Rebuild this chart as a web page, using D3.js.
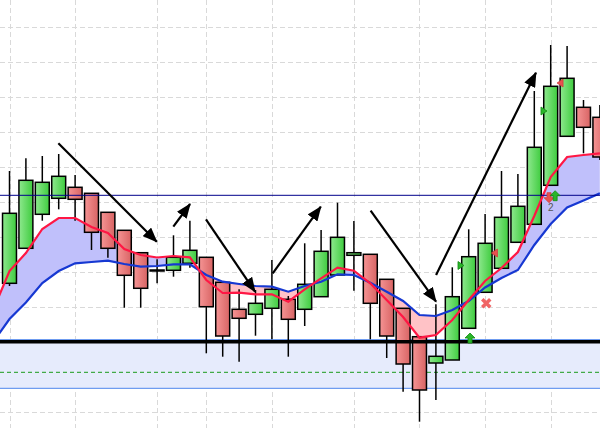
<!DOCTYPE html>
<html>
<head>
<meta charset="utf-8">
<script src="https://cdn.jsdelivr.net/npm/d3@7"></script>
<style>
body { margin:0; background:#fff; }
svg { display:block; }
</style>
</head>
<body>
<svg id="chart" width="600" height="428"></svg>
<script>
var width = 600, height = 428;

// candles, bar index 0..36
var open  = [121.67,125.17,128.57,130.17,131.27,130.67,128.77,126.97,124.73,122.97,122.97,123.67,124.27,121.77,119.07,118.57,119.17,120.07,119.07,120.33,122.50,124.47,124.57,122.07,119.17,116.33,113.70,114.00,117.17,120.77,123.17,125.77,127.57,131.47,136.37,139.27,138.27];
var high  = [132.90,134.17,134.40,134.60,132.50,130.67,128.77,126.97,124.73,124.07,126.47,127.93,124.27,121.77,121.07,121.00,124.00,120.40,125.67,127.00,129.73,127.90,124.57,122.07,119.17,116.33,119.57,123.27,127.07,128.60,132.90,132.60,140.90,145.50,145.40,140.00,139.50];
var low   = [121.40,125.17,127.93,129.07,127.93,125.00,124.23,119.23,119.23,121.67,122.33,123.23,114.67,114.33,113.83,116.43,116.07,114.33,117.40,120.33,122.50,120.93,116.07,114.20,110.83,107.83,110.00,114.00,117.17,120.77,123.17,125.77,127.57,131.47,136.37,134.67,134.00];
var close = [128.67,131.97,131.77,132.37,130.07,126.77,125.17,122.47,121.17,123.00,124.27,124.97,119.33,116.40,118.17,119.67,121.07,118.07,121.57,124.87,126.27,124.73,119.67,116.40,113.60,111.00,114.37,120.33,124.33,125.67,128.27,129.37,135.27,141.37,142.17,137.27,134.30];

// moving averages, first value sits one bar before the first candle
var maStart = -1;
var fastMA = [119.00,122.90,124.70,127.10,128.20,128.20,127.30,126.70,125.10,124.50,124.25,124.40,124.27,122.00,120.70,120.73,120.57,120.57,119.83,121.07,122.17,123.23,122.93,121.67,120.00,118.30,116.23,116.50,118.00,120.00,121.90,123.20,124.80,128.40,132.30,134.30,134.50,134.67];
var slowMA = [115.80,118.10,119.75,121.70,122.90,123.67,123.80,123.93,123.60,123.33,123.40,123.57,123.57,122.50,121.83,121.60,121.40,121.33,120.83,121.40,121.83,122.57,122.50,121.73,120.83,119.90,118.50,118.40,119.00,119.90,121.25,122.20,123.00,125.50,127.60,129.25,129.95,130.67];

var gridBars = [0,4,9,12,16,21,25,29,33];
var gridPrices = [147.3,143.8,140.3,136.8,133.3,129.8,126.3,122.8,119.3,115.8,112.3,108.8];

var navyLevel = 130.47;
var zoneTop = 116.05, zoneBottom = 111.17;
var blackLevel = 115.83;
var dashLevel = 112.77;

// hand drawn arrows: [bar1, price1, bar2, price2]
var arrows = [
  [2.98,135.67,8.98,125.83],
  [9.99,127.33,11.01,129.60],
  [11.98,128.07,14.97,120.83],
  [16.05,122.67,18.98,129.33],
  [22.02,128.93,26.01,119.83],
  [26.01,122.50,32.10,142.73]
];

// signal markers: [bar, price, kind]
var signals = [
  [27.53,123.45,'tri-right'],
  [29.57,124.70,'tri-left'],
  [32.59,138.90,'tri-right'],
  [33.57,141.70,'tri-left'],
  [29.07,119.67,'cross'],
  [28.08,116.70,'up'],
  [32.90,130.73,'down'],
  [33.27,130.93,'up']
];
var signalLabels = [[33.0,129.2,'2']];

var svg = d3.select('#chart');

var x = d3.scaleLinear().domain([0,36]).range([9.5,599.9]);
var y = d3.scaleLinear().domain([107.2,150]).range([height,0]);
var step = x(1) - x(0);
var bodyW = step*0.85;

var defs = svg.append('defs');
function grad(id, c1, c2){
  var g = defs.append('linearGradient').attr('id',id)
    .attr('x1','0%').attr('y1','0%').attr('x2','100%').attr('y2','0%');
  g.append('stop').attr('offset','0%').attr('stop-color',c1);
  g.append('stop').attr('offset','100%').attr('stop-color',c2);
}
grad('gUp','#8ee88e','#3fcc3f');
grad('gDown','#f59494','#d86464');

defs.append('marker')
  .attr('id','head')
  .attr('markerUnits','userSpaceOnUse')
  .attr('markerWidth',15).attr('markerHeight',12)
  .attr('refX',14).attr('refY',6)
  .attr('orient','auto')
  .append('path').attr('d','M0,0 L15,6 L0,12 Z').attr('fill','#000');

var maIdx = fastMA.map(function(d,i){ return maStart + i; });

// clip regions above / below the slow average
defs.append('clipPath').attr('id','aboveSlow').append('path')
  .attr('d', d3.area().x(function(i){ return x(i); }).y0(0).y1(function(i,k){ return y(slowMA[k]); })(maIdx));
defs.append('clipPath').attr('id','belowSlow').append('path')
  .attr('d', d3.area().x(function(i){ return x(i); }).y0(height).y1(function(i,k){ return y(slowMA[k]); })(maIdx));

// grid
svg.append('g').selectAll('line').data(gridPrices).enter().append('line')
  .attr('x1',0).attr('x2',width)
  .attr('y1',function(d){ return Math.round(y(d))+0.5; })
  .attr('y2',function(d){ return Math.round(y(d))+0.5; })
  .attr('stroke','#d9d9d9').attr('stroke-dasharray','5,3');
svg.append('g').selectAll('line').data(gridBars).enter().append('line')
  .attr('y1',0).attr('y2',height)
  .attr('x1',function(d){ return Math.round(x(d))+0.5; })
  .attr('x2',function(d){ return Math.round(x(d))+0.5; })
  .attr('stroke','#d9d9d9').attr('stroke-dasharray','5,3');

// zone
svg.append('rect')
  .attr('x',0).attr('width',width)
  .attr('y',y(zoneTop)).attr('height',y(zoneBottom)-y(zoneTop))
  .attr('fill','#e6ebfc');
svg.append('line').attr('x1',0).attr('x2',width)
  .attr('y1',y(dashLevel)).attr('y2',y(dashLevel))
  .attr('stroke','#1a9a1a').attr('stroke-dasharray','4,3');
[zoneTop, zoneBottom].forEach(function(p){
  svg.append('line').attr('x1',0).attr('x2',width)
    .attr('y1',y(p)).attr('y2',y(p))
    .attr('stroke','#6f9cf0').attr('stroke-width',1.2);
});

// fill between averages
var band = d3.area()
  .x(function(i){ return x(i); })
  .y0(function(i,k){ return y(fastMA[k]); })
  .y1(function(i,k){ return y(slowMA[k]); });
svg.append('path').attr('d',band(maIdx)).attr('fill','#c0c0fb').attr('clip-path','url(#aboveSlow)');
svg.append('path').attr('d',band(maIdx)).attr('fill','#ffc2c6').attr('clip-path','url(#belowSlow)');

// candles
var bars = d3.range(open.length);
var candle = svg.append('g').selectAll('g').data(bars).enter().append('g');
candle.append('line')
  .attr('x1',function(i){ return x(i); }).attr('x2',function(i){ return x(i); })
  .attr('y1',function(i){ return y(high[i]); }).attr('y2',function(i){ return y(low[i]); })
  .attr('stroke','#000').attr('stroke-width',1.5);
candle.append('rect')
  .attr('x',function(i){ return x(i)-bodyW/2; })
  .attr('width',bodyW)
  .attr('y',function(i){ return y(Math.max(open[i],close[i])); })
  .attr('height',function(i){ return Math.max(1, Math.abs(y(open[i])-y(close[i]))); })
  .attr('fill',function(i){ return close[i] >= open[i] ? 'url(#gUp)' : 'url(#gDown)'; })
  .attr('stroke','#000').attr('stroke-width',1.5);

// averages
var line = function(arr){
  return d3.line().x(function(i){ return x(i); }).y(function(i,k){ return y(arr[k]); })(maIdx);
};
svg.append('path').attr('d',line(slowMA)).attr('fill','none').attr('stroke','#1638d2').attr('stroke-width',2.2);
svg.append('path').attr('d',line(fastMA)).attr('fill','none').attr('stroke','#ff1744').attr('stroke-width',2.2);

// levels
svg.append('line').attr('x1',0).attr('x2',width)
  .attr('y1',y(navyLevel)).attr('y2',y(navyLevel))
  .attr('stroke','#00008b').attr('stroke-width',1);
svg.append('line').attr('x1',0).attr('x2',width)
  .attr('y1',y(blackLevel)).attr('y2',y(blackLevel))
  .attr('stroke','#000').attr('stroke-width',3.6);

// signals
svg.append('g').selectAll('path').data(signals).enter().append('path')
  .attr('transform',function(d){ return 'translate(' + x(d[0]) + ',' + y(d[1]) + ')'; })
  .attr('d',function(d){
    switch (d[2]) {
      case 'tri-right': return 'M-3,-4 L3,0 L-3,4 Z';
      case 'tri-left':  return 'M3,-4 L-3,0 L3,4 Z';
      case 'cross':     return 'M-4,-4 L4,4 M4,-4 L-4,4';
      case 'up':        return 'M0,0 L5,5 L2,5 L2,10 L-2,10 L-2,5 L-5,5 Z';
      case 'down':      return 'M0,10 L5,5 L2,5 L2,0 L-2,0 L-2,5 L-5,5 Z';
    }
  })
  .attr('fill',function(d){
    if (d[2] == 'cross') return 'none';
    return (d[2] == 'tri-right' || d[2] == 'up') ? '#2ab52a' : '#e85050';
  })
  .attr('stroke',function(d){
    if (d[2] == 'cross') return '#f06464';
    return (d[2] == 'tri-right' || d[2] == 'up') ? '#108a10' : '#d23c3c';
  })
  .attr('stroke-width',function(d){ return d[2] == 'cross' ? 3.5 : 0.8; });

svg.append('g').selectAll('text').data(signalLabels).enter().append('text')
  .attr('x',function(d){ return x(d[0]); })
  .attr('y',function(d){ return y(d[1]); })
  .attr('text-anchor','middle').attr('dominant-baseline','middle')
  .attr('font-family','Liberation Sans, Arial, sans-serif').attr('font-size',10)
  .attr('fill','#555')
  .text(function(d){ return d[2]; });

// arrows
svg.append('g').selectAll('line').data(arrows).enter().append('line')
  .attr('x1',function(d){ return x(d[0]); }).attr('y1',function(d){ return y(d[1]); })
  .attr('x2',function(d){ return x(d[2]); }).attr('y2',function(d){ return y(d[3]); })
  .attr('stroke','#000').attr('stroke-width',2.2)
  .attr('marker-end','url(#head)');
</script>
</body>
</html>
